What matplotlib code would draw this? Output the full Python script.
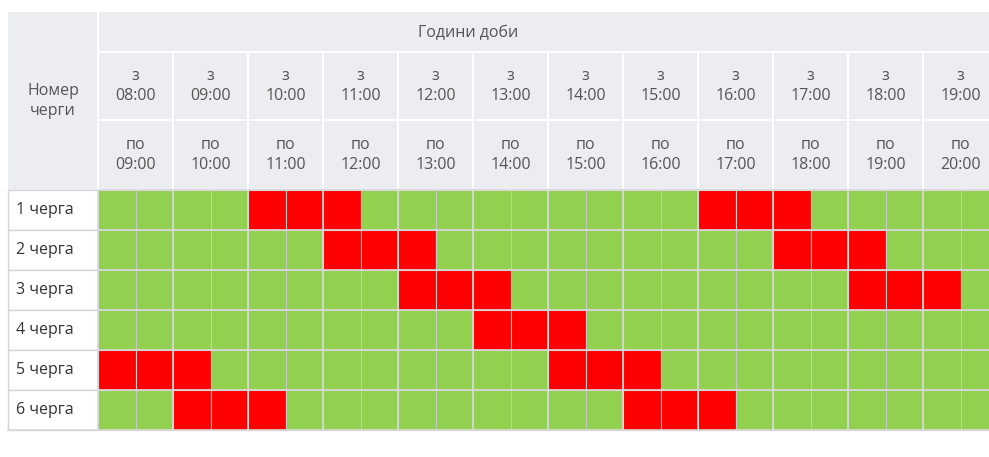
import matplotlib
matplotlib.use("Agg")
import matplotlib.pyplot as plt
from matplotlib.patches import Rectangle

queues = ["1 черга", "2 черга", "3 черга", "4 черга", "5 черга", "6 черга"]
hours_from = ["08:00", "09:00", "10:00", "11:00", "12:00", "13:00", "14:00", "15:00", "16:00", "17:00", "18:00", "19:00"]
hours_to = ["09:00", "10:00", "11:00", "12:00", "13:00", "14:00", "15:00", "16:00", "17:00", "18:00", "19:00", "20:00"]
# half-hour slots (0 = 08:00-08:30) with outage
outages = [
    [4, 5, 6, 16, 17, 18],
    [6, 7, 8, 18, 19, 20],
    [8, 9, 10, 20, 21, 22],
    [10, 11, 12],
    [0, 1, 2, 12, 13, 14],
    [2, 3, 4, 14, 15, 16],
]

plt.rcParams['font.family'] = ['Open Sans', 'DejaVu Sans']
fig = plt.figure(figsize=(9.89, 4.57), dpi=100)
ax = fig.add_axes([0, 0, 1, 1])
ax.set_xlim(0, 989); ax.set_ylim(457, 0); ax.axis('off')

x0, lw_col, hw = 8, 90, 75
top, h1, h2, h3, rh = 12, 40, 68, 70, 40
gx = x0 + lw_col
hdr = '#ebedf0'; txt = '#555555'; green = '#92d050'; red = '#ff0000'
fs = 11.5

# header backgrounds
ax.add_patch(Rectangle((x0, top), 1100, h1 + h2 + h3, fc=hdr, ec='none'))
ax.text(gx + 6 * hw - 80, top + h1 / 2 + 1, "Години доби", ha='center', va='center', fontsize=fs, color=txt)
ax.text(x0 + lw_col / 2, top + (h1 + h2 + h3) / 2, "Номер\nчерги", ha='center', va='center', fontsize=fs, color=txt, linespacing=1.3)
y1 = top + h1; y2 = y1 + h2; y3 = y2 + h3
ax.plot([gx, 1100], [y1, y1], color='white', lw=1.5)
ax.plot([gx, 1100], [y2, y2], color='white', lw=1.5)
ax.plot([gx, gx], [top, y3], color='white', lw=1.5)
for i, (a, b) in enumerate(zip(hours_from, hours_to)):
    cx = gx + i * hw
    ax.plot([cx + hw, cx + hw], [y1, y3], color='white', lw=1.5)
    ax.text(cx + hw / 2, y1 + h2 / 2, "з\n" + a, ha='center', va='center', fontsize=fs, color=txt, linespacing=1.3)
    ax.text(cx + hw / 2, y2 + h3 / 2, "по\n" + b, ha='center', va='center', fontsize=fs, color=txt, linespacing=1.3)

# body
for r, q in enumerate(queues):
    y = y3 + r * rh
    ax.add_patch(Rectangle((x0, y), lw_col, rh, fc='white', ec='#d6d6d6', lw=1))
    ax.text(x0 + 8, y + rh / 2, q, ha='left', va='center', fontsize=fs, color='#333333')
    for s in range(len(hours_from) * 2):
        c = red if s in outages[r] else green
        ax.add_patch(Rectangle((gx + s * hw / 2, y), hw / 2, rh, fc=c, ec='#c8c8c8', lw=0.8))
    for i in range(len(hours_from) + 1):
        ax.plot([gx + i * hw] * 2, [y, y + rh], color='#d9d9d9', lw=1.2)
    ax.plot([gx, 1100], [y, y], color='#d9d9d9', lw=1.2)
yb = y3 + len(queues) * rh
ax.plot([x0, 1100], [yb, yb], color='#d9d9d9', lw=1.2)
fig.savefig("out.png", dpi=100)
